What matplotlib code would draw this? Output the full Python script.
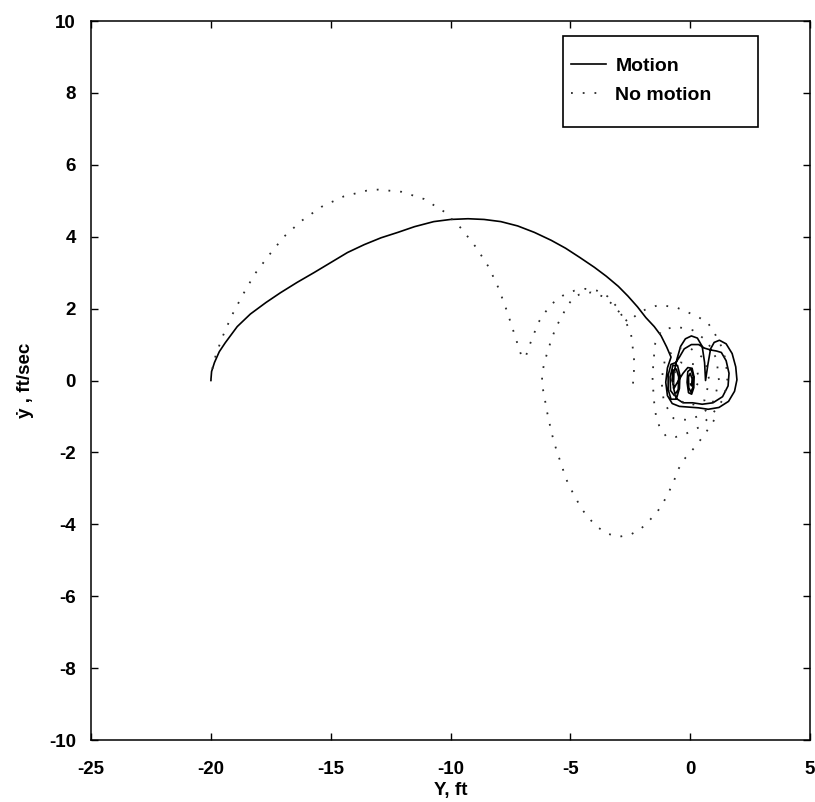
import matplotlib
matplotlib.use('Agg')
import matplotlib.pyplot as plt
from matplotlib.patches import Rectangle

# Motion trajectory (Y, ft  vs  y-dot, ft/sec)
motion_y = [-20.0, -19.97, -19.85, -19.65, -19.4, -18.9, -18.35, -17.7, -17.1, -16.4,
            -15.7, -15.0, -14.3, -13.6, -12.9, -12.2, -11.5, -10.7, -10.0, -9.27,
            -8.6, -7.9, -7.2, -6.5, -5.8, -5.2, -4.6, -4.0, -3.5, -3.0,
            -2.6, -2.2, -1.85, -1.5, -1.22, -0.98, -0.8,
            # first large loop
            -0.95, -1.02, -0.95, -0.75, -0.45, -0.05, 0.35, 0.75, 1.2, 1.6,
            1.85, 1.95, 1.9, 1.75, 1.5, 1.22, 1.0, 0.85, 0.74, 0.64,
            0.6, 0.5, 0.3, 0.05, -0.2, -0.4, -0.55,
            # second loop
            -0.68, -0.7, -0.58, -0.3, 0.1, 0.5, 0.95, 1.35, 1.58, 1.62,
            1.5, 1.3, 1.1, 0.85, 0.6, 0.35, 0.05, -0.25, -0.45,
            # tight left ellipse
            -0.6, -0.8, -0.92, -0.92, -0.8, -0.58, -0.45, -0.43, -0.53, -0.72,
            -0.84, -0.82, -0.66, -0.5, -0.48, -0.58, -0.72, -0.76, -0.66, -0.56,
            # centre ellipse
            -0.3, -0.1, 0.08, 0.16, 0.15, 0.06, -0.07, -0.13, -0.1, 0.03,
            0.13, 0.12, 0.03, -0.06, -0.07, 0.0, 0.08, 0.06, 0.02]
motion_ydot = [0.0, 0.25, 0.5, 0.8, 1.05, 1.5, 1.85, 2.17, 2.44, 2.73,
               3.0, 3.28, 3.56, 3.78, 3.97, 4.12, 4.28, 4.42, 4.48, 4.5,
               4.48, 4.42, 4.3, 4.12, 3.9, 3.68, 3.42, 3.15, 2.9, 2.62,
               2.35, 2.05, 1.75, 1.5, 1.25, 0.93, 0.65,
               0.35, -0.05, -0.42, -0.64, -0.72, -0.74, -0.76, -0.8, -0.75, -0.58,
               -0.3, 0.02, 0.38, 0.75, 1.02, 1.12, 1.06, 0.88, 0.45, 0.0,
               0.5, 0.95, 1.18, 1.24, 1.16, 0.95, 0.6,
               0.2, -0.2, -0.5, -0.62, -0.62, -0.66, -0.62, -0.45, -0.15, 0.2,
               0.55, 0.78, 0.82, 0.85, 0.9, 1.0, 1.0, 0.88, 0.65,
               0.5, 0.45, 0.15, -0.25, -0.52, -0.52, -0.22, 0.15, 0.42, 0.42,
               0.1, -0.28, -0.42, -0.25, 0.1, 0.32, 0.28, 0.0, -0.2, -0.08,
               0.2, 0.36, 0.34, 0.1, -0.2, -0.38, -0.34, -0.05, 0.25, 0.32,
               0.12, -0.18, -0.32, -0.2, 0.1, 0.2, 0.05, -0.15, -0.1]

# No motion trajectory, first part: big arch, cusp and small hump
nomo_arch_y = [-20.0, -19.9, -19.55, -19.14, -18.68, -18.17, -17.57, -16.95, -16.22, -15.39,
               -14.46, -13.51, -13.03, -12.05, -11.11, -10.25, -9.55, -8.93, -8.4, -7.99,
               -7.64, -7.33, -7.1, -7.0, -6.85, -6.68, -6.5, -6.33, -6.05, -5.74,
               -5.32, -4.83, -4.38, -3.89, -3.45, -3.1, -2.68, -2.47, -2.4, -2.33,
               -2.36, -2.4]
nomo_arch_ydot = [0.0, 0.5, 1.16, 1.79, 2.37, 2.96, 3.49, 4.0, 4.44, 4.83,
                  5.12, 5.28, 5.31, 5.25, 5.05, 4.69, 4.23, 3.7, 3.15, 2.56,
                  1.92, 1.28, 0.8, 0.62, 0.69, 1.02, 1.33, 1.62, 1.9, 2.15,
                  2.36, 2.5, 2.55, 2.5, 2.34, 2.08, 1.62, 1.3, 0.93, 0.5,
                  0.1, -0.17]

# No motion trajectory, second part: lower loop and the cloud around zero
nomo_loop_y = [1.0, 0.6, 0.2, -0.2, -0.5, -0.67, -0.875, -1.11, -1.36, -1.71,
               -2.05, -2.47, -2.99, -3.45, -3.89, -4.24, -4.53, -4.76, -5.01, -5.21,
               -5.36, -5.53, -5.67, -5.8, -5.9, -6.01, -6.08, -6.18, -6.18, -6.08,
               -5.94, -5.78, -5.6, -5.36, -5.14, -4.88, -4.63, -4.14, -3.65, -3.26,
               -2.93, -2.6, -2.2, -1.8, -1.3,
               -1.08, -0.6, 0.24, 0.72, 1.0, 1.3, 1.49, 1.55, 1.4, 0.93,
               0.375, -0.18, -0.6, -1.0, -1.29, -1.43, -1.5, -1.54, -1.57, -1.54,
               -1.46, -1.2, -0.6, 0.1, 0.7, 1.1, 1.2, 1.0, 0.5, -0.1,
               -0.7, -1.1, -1.2, -1.05, -0.6, 0.0, 0.6, 0.8, 0.6, 0.0,
               -0.6, -0.75, -0.4, 0.2, 0.4, 0.1]
nomo_loop_ydot = [-1.1, -1.5, -1.85, -2.15, -2.47, -2.78, -3.08, -3.38, -3.64, -3.9,
                  -4.12, -4.28, -4.35, -4.26, -4.07, -3.82, -3.57, -3.29, -2.98, -2.69,
                  -2.36, -2.04, -1.74, -1.41, -1.09, -0.76, -0.44, -0.14, 0.19, 0.51,
                  0.83, 1.16, 1.48, 1.78, 2.06, 2.3, 2.39, 2.45, 2.34, 2.13,
                  1.88, 1.62, 1.85, 2.0, 2.1,
                  2.08, 2.04, 1.8, 1.62, 1.34, 0.95, 0.56, 0.0, -0.5, -0.93,
                  -1.3, -1.48, -1.57, -1.56, -1.27, -0.97, -0.63, -0.28, 0.05, 0.47,
                  1.03, 1.4, 1.5, 1.4, 1.1, 0.6, 0.0, -0.55, -0.95, -1.1,
                  -1.05, -0.6, 0.0, 0.6, 0.9, 0.9, 0.6, 0.0, -0.55, -0.7,
                  -0.5, 0.1, 0.5, 0.45, 0.0, -0.3]

x_ticks = [-25, -20, -15, -10, -5, 0, 5]
y_ticks = [-10, -8, -6, -4, -2, 0, 2, 4, 6, 8, 10]

plt.rcParams['font.family'] = ['Liberation Sans', 'DejaVu Sans']
plt.rcParams['font.weight'] = 'bold'
plt.rcParams['axes.unicode_minus'] = False

fig = plt.figure(figsize=(8.15, 8.02), dpi=100)
ax = fig.add_axes([0.1117, 0.0773, 0.8822, 0.8965])

dot_style = dict(color='#2a2a2a', linewidth=1.3, linestyle=(0, (1, 5.5)))
ax.plot(motion_y, motion_ydot, color='black', linewidth=1.2, label='Motion')
ax.plot(nomo_arch_y, nomo_arch_ydot, label='No motion', **dot_style)
ax.plot(nomo_loop_y, nomo_loop_ydot, **dot_style)

ax.set_xlim(-25, 5)
ax.set_ylim(-10, 10)
ax.set_xticks(x_ticks)
ax.set_yticks(y_ticks)
ax.tick_params(direction='in', length=5, width=1, top=True, right=True,
               labelsize=13.5, colors='black')
ax.tick_params(axis='x', pad=15)
ax.tick_params(axis='y', pad=11)
for lbl in ax.get_xticklabels() + ax.get_yticklabels():
    lbl.set_fontweight('bold')
for sp in ax.spines.values():
    sp.set_linewidth(1.1)

ax.set_xlabel('Y, ft', fontsize=13.5, fontweight='bold')
ax.set_ylabel('\u1e8f , ft/sec', fontsize=13.5, fontweight='bold')
ax.xaxis.set_label_coords(0.5, -0.058)
ax.yaxis.set_label_coords(-0.08, 0.5)

# legend with a larger hand-drawn box like the original
ax.legend(loc='upper left', bbox_to_anchor=(0.667, 0.95), frameon=False,
          handlelength=1.8, handletextpad=0.5, labelspacing=0.6,
          borderpad=0, borderaxespad=0, prop={'weight': 'bold', 'size': 14})
ax.add_patch(Rectangle((0.656, 0.853), 0.272, 0.126, transform=ax.transAxes,
                       fill=False, edgecolor='black', linewidth=1.2, zorder=5))

fig.savefig('out.png', dpi=100)
